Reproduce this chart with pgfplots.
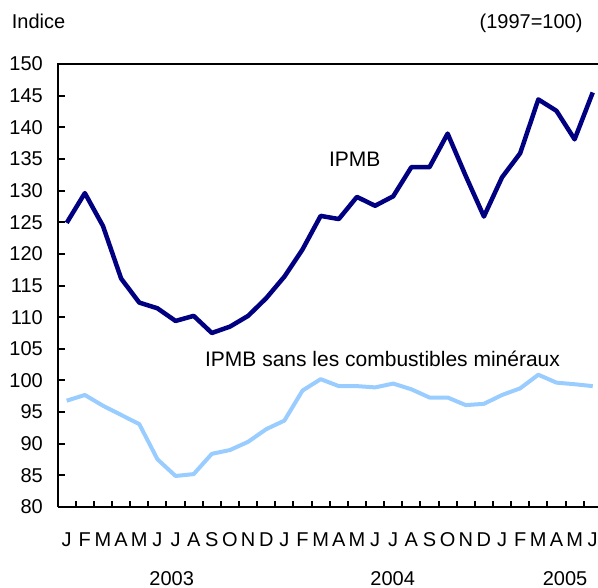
\documentclass[border=0pt]{standalone}
\usepackage{pgfplots}
\pgfplotsset{compat=1.18}
\usepackage{fontspec}
\setmainfont{Liberation Sans}
\definecolor{navy}{RGB}{0,0,128}
\definecolor{lightblue}{RGB}{153,204,255}
\newcommand{\tf}{\fontsize{20bp}{24bp}\selectfont}
\newcommand{\af}{\fontsize{21bp}{25bp}\selectfont}
\begin{document}
\begin{tikzpicture}
\path[use as bounding box] (-58bp,-81bp) rectangle (540bp,507bp);
\begin{axis}[
  name=ax,
  at={(0,0)}, anchor=south west,
  scale only axis,
  width=540bp, height=443bp,
  xmin=-0.48, xmax=29.29,
  ymin=80, ymax=150,
  axis x line*=bottom,
  axis y line*=left,
  axis line style={line width=2.5bp, black},
  tick align=inside,
  major tick length=0pt,
  minor tick length=6.5bp,
  tick style={line width=2bp, black},
  xtick={0,...,29},
  xticklabels={J,F,M,A,M,J,J,A,S,O,N,D,J,F,M,A,M,J,J,A,S,O,N,D,J,F,M,A,M,J},
  minor xtick={0.5,1.5,...,28.5},
  ytick={80,85,...,150},
  minor ytick={80,85,...,150},
  /pgf/number format/assume math mode=true,
  tick label style={font=\tf},
  xticklabel style={anchor=base, yshift=-39.7bp, inner sep=0pt},
  yticklabel style={anchor=east, inner sep=0pt, xshift=-15bp},
  clip=false,
]
\addplot[lightblue, line width=4bp, line join=round] coordinates {
(0,96.8)(1,97.7)(2,96.0)(3,94.55)(4,93.1)(5,87.55)(6,84.9)(7,85.2)(8,88.4)(9,89.0)(10,90.3)(11,92.3)
(12,93.65)(13,98.4)(14,100.2)(15,99.1)(16,99.1)(17,98.9)(18,99.5)(19,98.6)(20,97.3)(21,97.3)(22,96.1)(23,96.3)
(24,97.7)(25,98.75)(26,100.9)(27,99.65)(28,99.4)(29,99.1)};
\addplot[navy, line width=4.5bp, line join=round] coordinates {
(0,124.9)(1,129.6)(2,124.4)(3,116.1)(4,112.3)(5,111.4)(6,109.4)(7,110.2)(8,107.5)(9,108.5)(10,110.2)(11,113.0)
(12,116.4)(13,120.7)(14,126.0)(15,125.5)(16,129.0)(17,127.6)(18,129.1)(19,133.7)(20,133.7)(21,139.0)(22,132.3)(23,125.9)
(24,132.1)(25,135.9)(26,144.4)(27,142.6)(28,138.1)(29,145.5)};
\node[font=\af, anchor=base, inner sep=0pt] at (axis cs:15.88,133.78) {IPMB};
\node[font=\af, anchor=base west, inner sep=0pt] at (axis cs:7.62,102.13) {IPMB sans les combustibles minéraux};
\end{axis}
\draw[line width=2.5bp, line cap=rect] (ax.north west) -- (ax.north east);
\node[font=\tf, anchor=base west, inner sep=0pt] at (-46.3bp,478bp) {Indice};
\node[font=\tf, anchor=base east, inner sep=0pt] at (524.7bp,478bp) {(1997=100)};
\node[font=\tf, anchor=base, inner sep=0pt] at (113.7bp,-78bp) {2003};
\node[font=\tf, anchor=base, inner sep=0pt] at (334.7bp,-78bp) {2004};
\node[font=\tf, anchor=base, inner sep=0pt] at (507bp,-78bp) {2005};
\end{tikzpicture}
\end{document}
